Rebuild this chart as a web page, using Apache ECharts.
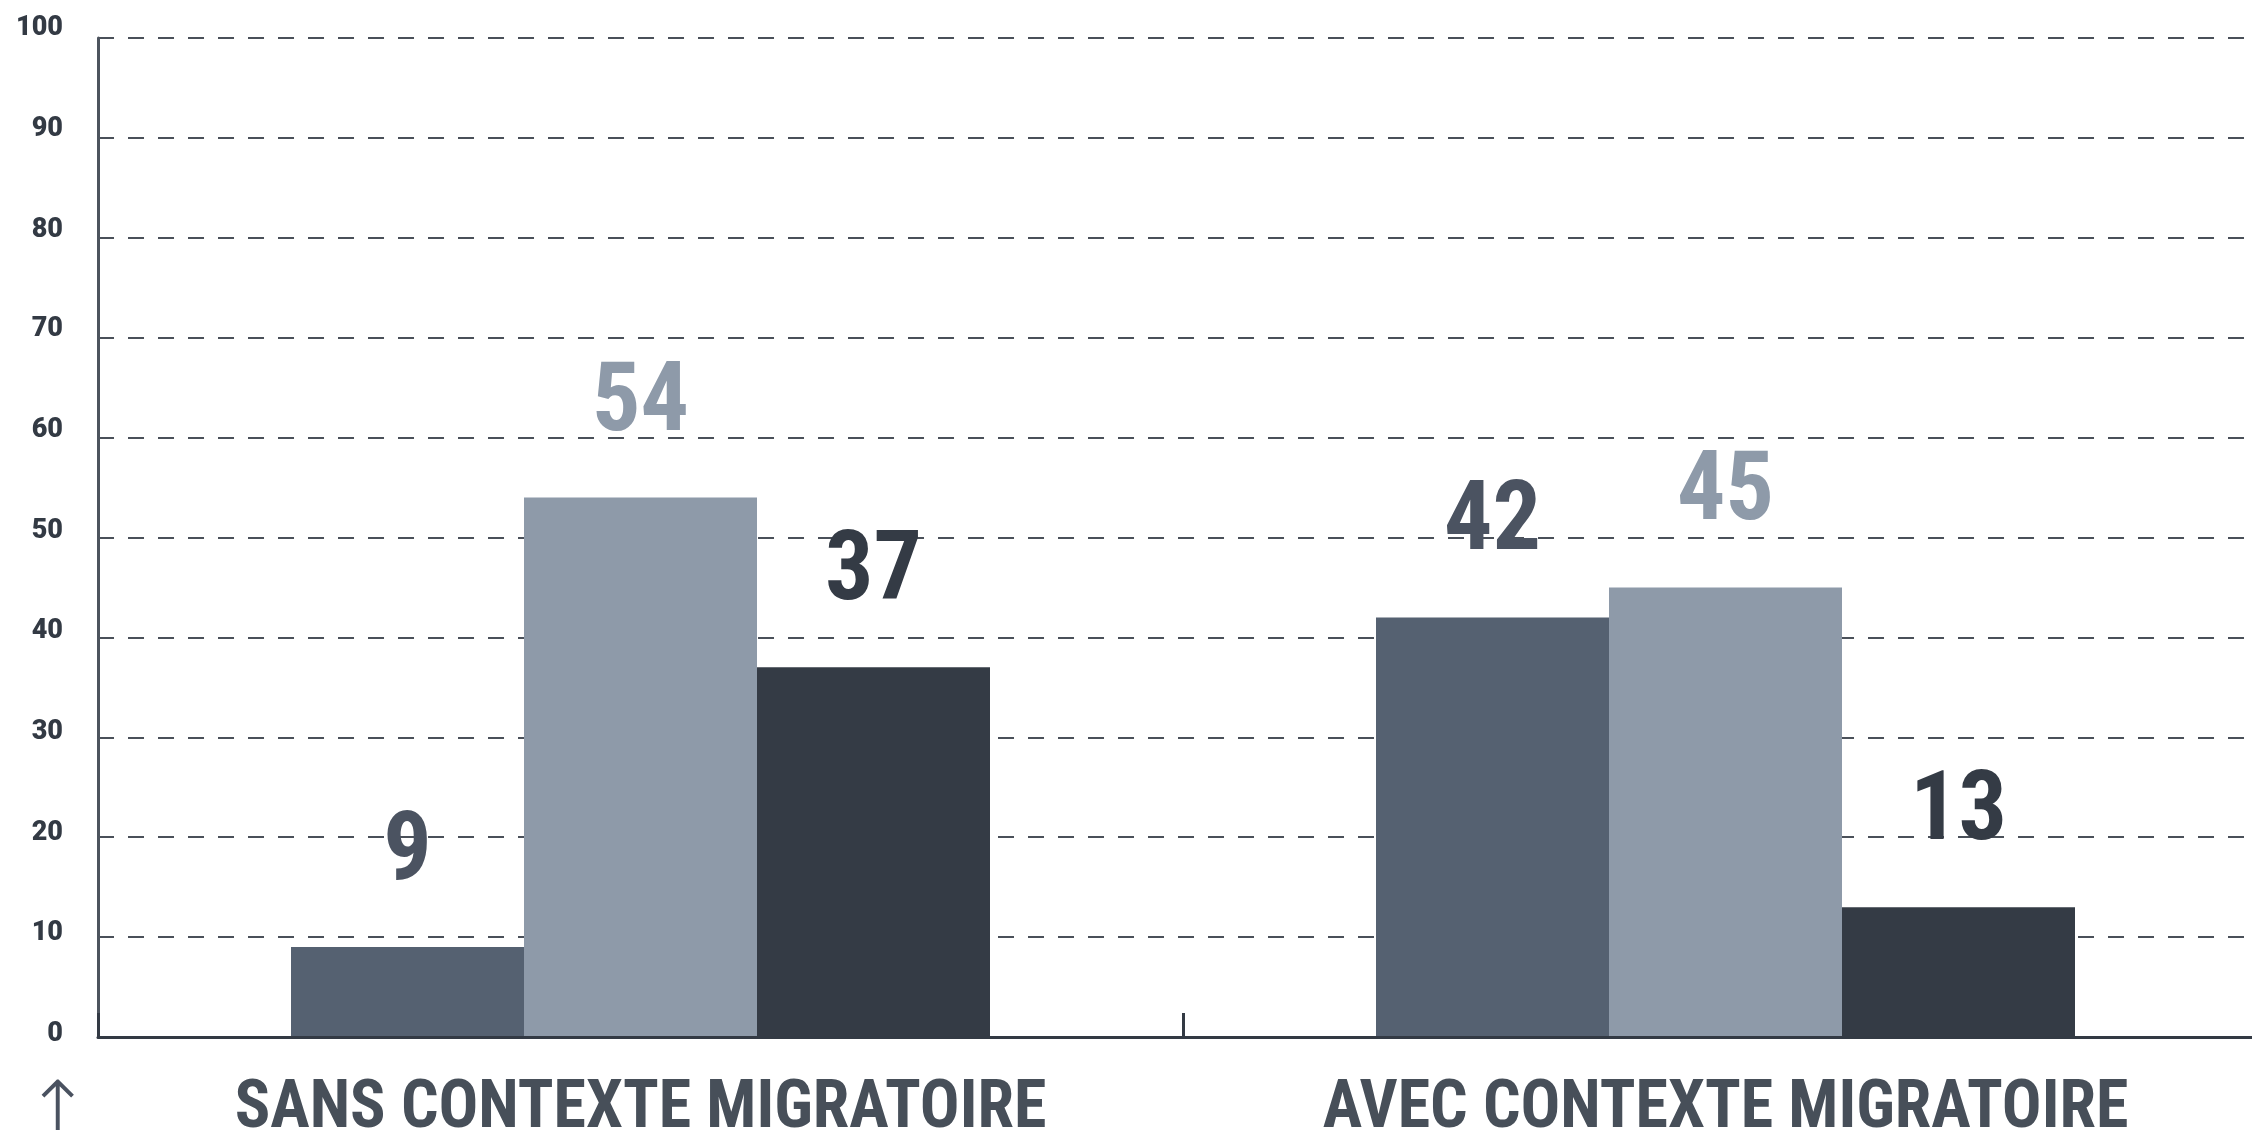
<!DOCTYPE html>
<html>
<head>
<meta charset="utf-8">
<script src="https://cdn.jsdelivr.net/npm/echarts@6/dist/echarts.min.js"></script>
<style>
html,body{margin:0;padding:0;background:#ffffff;}
#chart{width:2252px;height:1130px;}
</style>
</head>
<body>
<div id="chart"></div>
<script>
const categories = ['SANS CONTEXTE MIGRATOIRE', 'AVEC CONTEXTE MIGRATOIRE'];
const seriesA = [9, 42];
const seriesB = [54, 45];
const seriesC = [37, 13];
const yTicks = [0, 10, 20, 30, 40, 50, 60, 70, 80, 90, 100];

const barColors = ['#556171', '#8e9aa9', '#343b45'];
const labelColors = ['#4b5361', '#8e9aa9', '#343b45'];
const seriesData = [seriesA, seriesB, seriesC];
const condFont = '"Roboto Condensed", Roboto, sans-serif';

// tick label lift (px) so labels sit slightly above their grid line
const lift = v => Math.round(3 + 0.065 * v);
const yRich = { a: { fontSize: 27, fontWeight: 900, fontFamily: 'Roboto, sans-serif', color: '#333a44', lineHeight: 27 } };
yTicks.forEach(v => { yRich['g' + v] = { fontSize: 2, lineHeight: 2 * lift(v) }; });

const chart = echarts.init(document.getElementById('chart'));

const series = seriesData.map((d, i) => ({
  type: 'bar',
  data: d,
  barWidth: 233,
  barGap: '0%',
  itemStyle: { color: barColors[i] },
  label: {
    show: true,
    position: 'top',
    distance: 44,
    fontFamily: condFont,
    fontWeight: 'bold',
    fontSize: 96,
    color: labelColors[i]
  },
  emphasis: { disabled: true },
  animation: false
}));

chart.setOption({
  animation: false,
  grid: { left: 98, top: 38, width: 2170, height: 999, outerBoundsMode: 'none', containLabel: false },
  xAxis: {
    type: 'category',
    data: categories,
    axisLine: { show: true, lineStyle: { color: '#333a44', width: 3 } },
    axisTick: { show: true, inside: true, interval: 0, length: 24, lineStyle: { color: '#333a44', width: 3 } },
    axisLabel: {
      interval: 0,
      margin: 40,
      fontFamily: condFont,
      fontWeight: 'bold',
      fontSize: 66,
      color: '#474f59'
    },
    splitLine: { show: false },
    z: 5
  },
  yAxis: {
    type: 'value',
    min: 0,
    max: 100,
    interval: 10,
    axisLine: { show: true, lineStyle: { color: '#4d545e', width: 3 } },
    axisTick: { show: false },
    axisLabel: {
      margin: 35,
      formatter: v => yTicks.includes(v) ? '{a|' + v + '}\n{g' + v + '|\u00a0}' : '',
      rich: yRich
    },
    splitLine: { show: true, lineStyle: { color: '#4a5059', width: 2, type: [16, 14] } }
  },
  graphic: [{
    type: 'text',
    left: 24,
    top: 1077,
    style: {
      text: '↑',
      fontFamily: '"DejaVu Sans", sans-serif',
      fontWeight: 200,
      fontSize: 80,
      fill: '#4a5260'
    },
    silent: true
  }],
  series: series
});
</script>
</body>
</html>
